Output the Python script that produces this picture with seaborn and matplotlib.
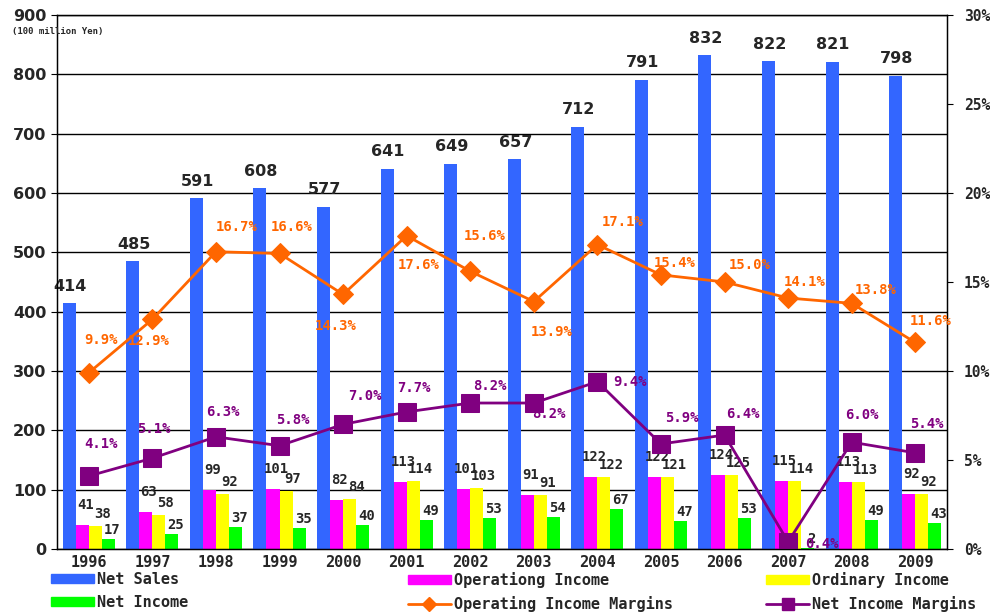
import matplotlib
matplotlib.use('Agg')
import matplotlib.pyplot as plt
import seaborn as sns
import pandas as pd
import numpy as np
from matplotlib.patches import Patch
from matplotlib.lines import Line2D
from matplotlib.ticker import FuncFormatter, MultipleLocator, FixedLocator

# Data (100 million Yen / %)
years = ['1996', '1997', '1998', '1999', '2000', '2001', '2002',
         '2003', '2004', '2005', '2006', '2007', '2008', '2009']
net_sales = [414, 485, 591, 608, 577, 641, 649, 657, 712, 791, 832, 822, 821, 798]
operating_income = [41, 63, 99, 101, 82, 113, 101, 91, 122, 122, 124, 115, 113, 92]
ordinary_income = [38, 58, 92, 97, 84, 114, 103, 91, 122, 121, 125, 114, 113, 92]
net_income = [17, 25, 37, 35, 40, 49, 53, 54, 67, 47, 53, 2, 49, 43]
op_margin = [9.9, 12.9, 16.7, 16.6, 14.3, 17.6, 15.6, 13.9, 17.1, 15.4, 15.0, 14.1, 13.8, 11.6]
net_margin = [4.1, 5.1, 6.3, 5.8, 7.0, 7.7, 8.2, 8.2, 9.4, 5.9, 6.4, 0.4, 6.0, 5.4]

series_names = ['Net Sales', 'Operationg Income', 'Ordinary Income', 'Net Income']
colors = ['#3366FF', '#FF00FF', '#FFFF00', '#00FF00']
orange = '#FF6600'
purple = '#800080'

# label placement (pixels from the marker / bar top)
op_offsets = [(12, 33), (-4, -22), (21, 25), (12, 26), (-7, -32), (12, -29), (14, 35),
              (18, -30), (25, 23), (14, 12), (25, 17), (17, 16), (24, 13), (15, 21)]
net_offsets = [(12, 32), (1, 29), (7, 25), (13, 26), (22, 28), (7, 24), (20, 17),
               (15, -11), (33, 0), (21, 26), (18, 21), (34, -2), (10, 27), (12, 29)]
bar_offsets = [(1, 17), (3, 20), (7, 12), (4, 9)]

df = pd.DataFrame({
    'year': years * 4,
    'series': sum([[s] * len(years) for s in series_names], []),
    'value': net_sales + operating_income + ordinary_income + net_income,
})

sns.set_style('white')
plt.rcParams['font.family'] = ['DejaVu Sans Mono', 'DejaVu Sans']
plt.rcParams['font.weight'] = 'bold'

fig = plt.figure(figsize=(9.9, 6.14), dpi=100)
ax = fig.add_axes([0.0576, 0.1059, 0.899, 0.8697])

sns.barplot(data=df, x='year', y='value', hue='series', hue_order=series_names,
            palette=dict(zip(series_names, colors)), width=0.82, saturation=1,
            legend=False, ax=ax, zorder=2, linewidth=0)

ax.set_xlim(-0.5, len(years) - 0.5)
ax.set_ylim(0, 900)
ax.yaxis.set_major_locator(MultipleLocator(100))
ax.grid(axis='y', color='black', linewidth=1)
ax.set_axisbelow(True)
ax.set_xlabel('')
ax.set_ylabel('')
for sp in ax.spines.values():
    sp.set_color('black')
    sp.set_linewidth(1)

ax.xaxis.set_minor_locator(FixedLocator(np.arange(-0.5, len(years), 1.0)))
ax.tick_params(axis='x', which='major', length=0, pad=4, labelsize=11)
ax.tick_params(axis='x', which='minor', length=4, color='black', direction='out')
ax.tick_params(axis='y', length=4, color='black', direction='out', left=True)
for lab in ax.get_yticklabels():
    lab.set_family('DejaVu Sans')
    lab.set_fontsize(11.5)
    lab.set_fontweight('bold')

fig.text(0.012, 0.944, '(100 million Yen)', fontsize=6.5, fontweight='bold')

# bar value labels
for i, cont in enumerate(ax.containers):
    dx, dy = bar_offsets[i]
    for bar in cont:
        h = bar.get_height()
        if i == 0:
            ax.annotate(f'{h:.0f}', (bar.get_x() + bar.get_width() / 2, h),
                        xytext=(dx, dy), textcoords='offset pixels', ha='center', va='center',
                        fontsize=11.5, fontweight='bold', family='DejaVu Sans', zorder=5)
        else:
            ax.annotate(f'{h:.0f}', (bar.get_x() + bar.get_width() / 2, h),
                        xytext=(dx, dy), textcoords='offset pixels', ha='center', va='center',
                        fontsize=10, fontweight='bold', zorder=5)

# margins on secondary axis
ax2 = ax.twinx()
x = np.arange(len(years))
sns.lineplot(x=x, y=op_margin, ax=ax2, color=orange, linewidth=2, marker='D',
             markersize=10, markeredgecolor=orange)
sns.lineplot(x=x, y=net_margin, ax=ax2, color=purple, linewidth=2, marker='s',
             markersize=13, markeredgecolor=purple)
ax2.set_ylim(0, 30)
ax2.yaxis.set_major_locator(MultipleLocator(5))
ax2.yaxis.set_major_formatter(FuncFormatter(lambda v, p: f'{v:.0f}%'))
ax2.tick_params(axis='y', length=4, color='black', direction='out', labelsize=10.5, pad=8)
ax2.grid(False)
for sp in ax2.spines.values():
    sp.set_color('black')

for xi, v, (dx, dy) in zip(x, op_margin, op_offsets):
    ax2.annotate(f'{v:.1f}%', (xi, v), xytext=(dx, dy), textcoords='offset pixels',
                 ha='center', va='center', color=orange, fontsize=10, fontweight='bold')
for xi, v, (dx, dy) in zip(x, net_margin, net_offsets):
    ax2.annotate(f'{v:.1f}%', (xi, v), xytext=(dx, dy), textcoords='offset pixels',
                 ha='center', va='center', color=purple, fontsize=10, fontweight='bold')

# legend in three columns below the chart
handles = [
    [Patch(color=colors[0], label='Net Sales'), Patch(color=colors[3], label='Net Income')],
    [Patch(color=colors[1], label='Operationg Income'),
     Line2D([], [], color=orange, linewidth=2, marker='D', markersize=7, label='Operating Income Margins')],
    [Patch(color=colors[2], label='Ordinary Income'),
     Line2D([], [], color=purple, linewidth=2, marker='s', markersize=8, label='Net Income Margins')],
]
for hs, xpos in zip(handles, [0.052, 0.412, 0.774]):
    fig.legend(handles=hs, loc='upper left', bbox_to_anchor=(xpos, 0.069), frameon=False,
               fontsize=11, handlelength=2.8, handleheight=0.5, handletextpad=0.2,
               labelspacing=0.55, borderpad=0, borderaxespad=0)

fig.savefig('out.png', dpi=100)
